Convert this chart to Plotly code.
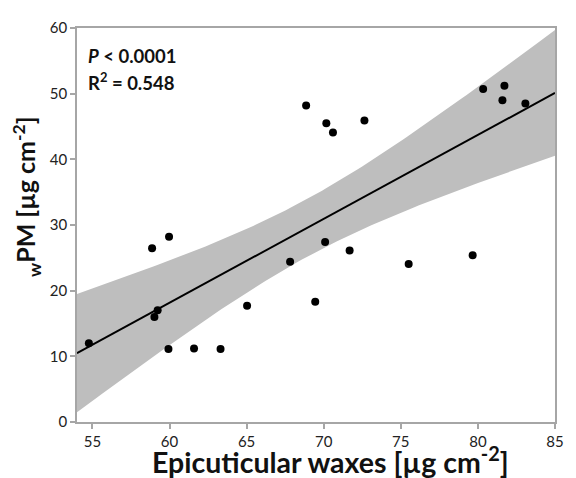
import numpy as np
import plotly.graph_objects as go

# Epicuticular waxes [µg cm-2]
waxes = [54.77, 58.87, 59.97, 59.02, 59.23, 59.93, 61.59, 63.31, 65.03, 67.82,
         69.45, 70.09, 71.68, 75.51, 79.66, 68.86, 70.17, 70.60, 72.64, 80.34,
         81.72, 81.59, 83.08]
# wPM [µg cm-2]
wpm = [12.0, 26.45, 28.2, 16.0, 17.0, 11.1, 11.2, 11.1, 17.7, 24.4,
       18.3, 27.4, 26.1, 24.06, 25.4, 48.2, 45.5, 44.1, 45.9, 50.7,
       51.2, 49.0, 48.5]

x_ticks = [55, 60, 65, 70, 75, 80, 85]
y_ticks = [0, 10, 20, 30, 40, 50, 60]

x = np.array(waxes)
y = np.array(wpm)
n = len(x)
slope, intercept = np.polyfit(x, y, 1)
xs = np.linspace(54, 85, 120)
yhat = intercept + slope * xs
resid = y - (intercept + slope * x)
s = np.sqrt(np.sum(resid ** 2) / (n - 2))
sxx = np.sum((x - x.mean()) ** 2)
t = 2.080  # t(0.975, df=21)
half = t * s * np.sqrt(1.0 / n + (xs - x.mean()) ** 2 / sxx)

fig = go.Figure()
fig.add_trace(go.Scatter(
    x=np.concatenate([xs, xs[::-1]]),
    y=np.concatenate([yhat + half, (yhat - half)[::-1]]),
    fill="toself", fillcolor="#bebebe", line=dict(width=0),
    mode="lines", hoverinfo="skip", showlegend=False))
fig.add_trace(go.Scatter(x=xs, y=yhat, mode="lines",
                         line=dict(color="black", width=2), showlegend=False))
fig.add_trace(go.Scatter(x=waxes, y=wpm, mode="markers",
                         marker=dict(color="black", size=8), showlegend=False))

font = "Lato, Noto Sans, sans-serif"
axis_common = dict(showline=True, linecolor="#a6a6a6", linewidth=1.5, mirror=True,
                   showgrid=False, zeroline=False, ticks="outside", ticklen=5,
                   tickcolor="#a6a6a6", tickwidth=1.5,
                   tickfont=dict(family=font, size=15, color="#222"))
fig.update_xaxes(range=[54, 85], tickvals=x_ticks, **axis_common)
fig.update_yaxes(range=[0, 60], tickvals=y_ticks, **axis_common)

# axis titles
fig.add_annotation(x=0.531, y=-0.150, xref="paper", yref="paper",
                   xanchor="center", yanchor="bottom", showarrow=False,
                   text="<b>Epicuticular waxes [µg cm<sup>-2</sup>]</b>",
                   font=dict(family=font, size=28.5, color="#111"))
fig.add_annotation(x=-0.107, y=0.571, xref="paper", yref="paper",
                   xanchor="center", yanchor="middle", showarrow=False, textangle=-90,
                   text="<b><sub>w</sub>PM [µg cm<sup>-2</sup>]</b>",
                   font=dict(family=font, size=25, color="#111"))

# statistics
fig.add_annotation(x=0.019, y=0.929, xref="paper", yref="paper", xanchor="left", yanchor="middle",
                   showarrow=False, text="<b><i>P</i> < 0.0001</b>",
                   font=dict(family=font, size=18.5, color="#111"))
fig.add_annotation(x=0.019, y=0.865, xref="paper", yref="paper", xanchor="left", yanchor="middle",
                   showarrow=False, text="<b>R<sup>2</sup> = 0.548</b>",
                   font=dict(family=font, size=18.5, color="#111"))
fig.update_layout(width=576, height=478, margin=dict(l=77, r=13, t=28, b=56),
                  plot_bgcolor="white", paper_bgcolor="white",
                  font=dict(family=font))
fig.write_html("out.html", config={"displayModeBar": False},
               post_script="document.body.style.margin='0';document.body.style.padding='0';")
